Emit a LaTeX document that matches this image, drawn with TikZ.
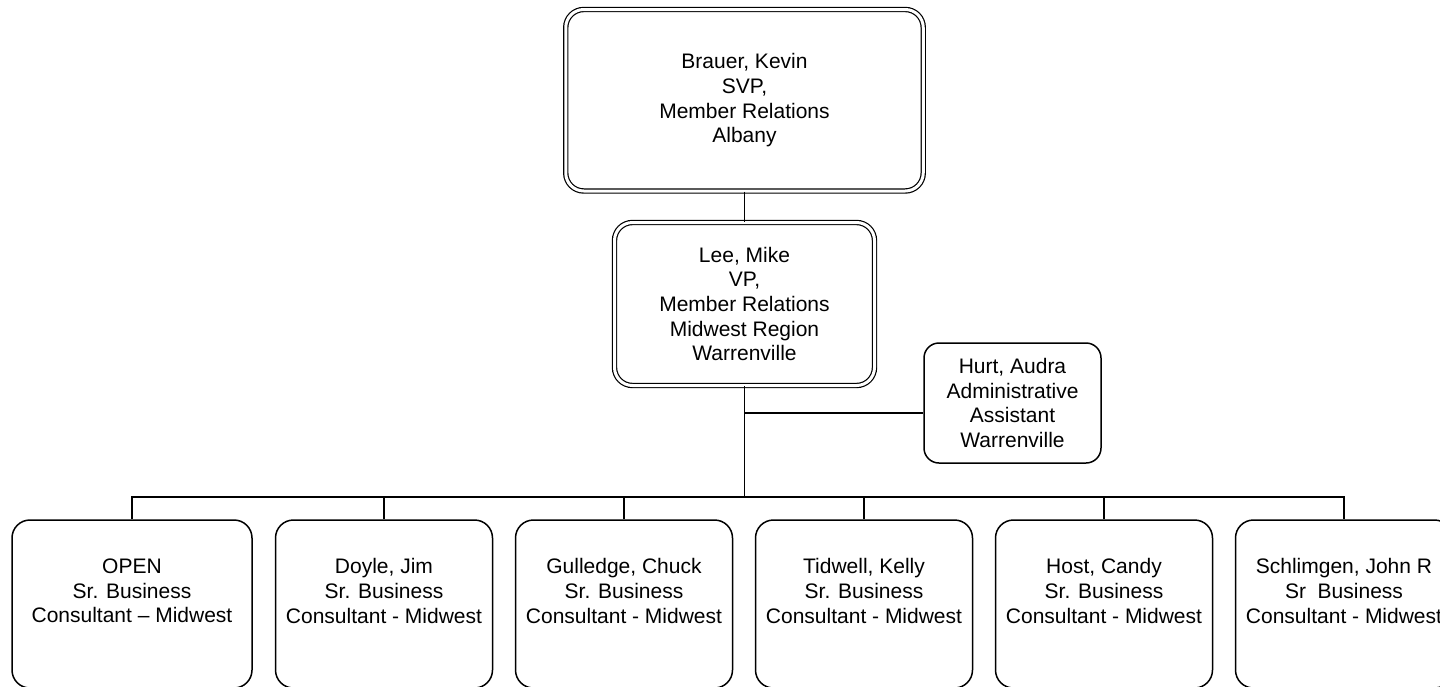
\documentclass[tikz,border=0pt]{standalone}
\usepackage{fontspec}
\setmainfont{Liberation Sans}
\begin{document}
\begin{tikzpicture}[x=1pt,y=-1pt,
  every node/.style={font=\fontsize{21}{24.7}\selectfont, align=center, inner sep=0pt},
  dblbox/.style={draw, double, double distance=3pt, line width=1.2pt, rounded corners=18pt},
  adminbox/.style={draw, line width=1.5pt, rounded corners=15pt, minimum width=177pt, minimum height=120pt},
  consbox/.style={draw, line width=1.5pt, rounded corners=18pt, minimum width=217pt, minimum height=168pt},
  conn/.style={line width=1.6pt}]
\useasboundingbox (0,0) rectangle (1440,686);
\clip (0,0) rectangle (1440,686);
\node[dblbox, minimum width=357.5pt, minimum height=181.5pt] (top) at (744.5,100.25)
  {Brauer, Kevin\\SVP,\\Member Relations\\Albany};
\node[dblbox, minimum width=260pt, minimum height=163pt] (lee) at (744.5,304)
  {Lee, Mike\\VP,\\Member Relations\\Midwest Region\\Warrenville};
\node[adminbox] (hurt) at (1012.5,403)
  {Hurt, Audra\\Administrative\\Assistant\\Warrenville};
\node[consbox, minimum width=240pt] (b1) at (132,604) {OPEN\\Sr. Business\\Consultant – Midwest\\[-6pt]\strut};
\node[consbox] (b2) at (384,604) {Doyle, Jim\\Sr. Business\\Consultant - Midwest\\[-6pt]\strut};
\node[consbox] (b3) at (624,604) {Gulledge, Chuck\\Sr. Business\\Consultant - Midwest\\[-6pt]\strut};
\node[consbox] (b4) at (864,604) {Tidwell, Kelly\\Sr. Business\\Consultant - Midwest\\[-6pt]\strut};
\node[consbox] (b5) at (1104,604) {Host, Candy\\Sr. Business\\Consultant - Midwest\\[-6pt]\strut};
\node[consbox] (b6) at (1344,604) {Schlimgen, John R\\Sr\ \ Business\\Consultant - Midwest\\[-6pt]\strut};
\coordinate (busc) at (744.5,497);
\coordinate (hj) at (744.5,413);
\draw[conn] (top.south) -- (lee.north);
\draw[conn] (lee.south) -- (busc);
\draw[conn] (hj) -- (hj -| hurt.west);
\draw[conn] (b1.north) |- (busc) -| (b6.north);
\foreach \b in {b2,b3,b4,b5} \draw[conn] (\b.north) -- (\b.north |- busc);
\end{tikzpicture}
\end{document}
